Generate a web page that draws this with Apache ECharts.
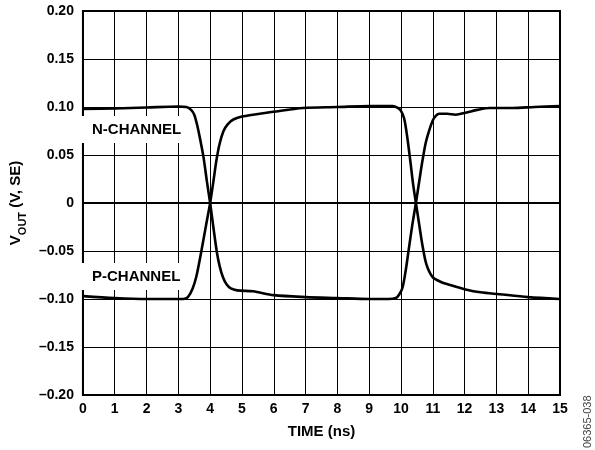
<!DOCTYPE html>
<html>
<head>
<meta charset="utf-8">
<script src="https://cdn.jsdelivr.net/npm/echarts@6/dist/echarts.min.js"></script>
<style>
html,body{margin:0;padding:0;background:#fff;}
#c{width:595px;height:450px;}
</style>
</head>
<body>
<div id="c"></div>
<script>
// Time (ns) and output voltage (V)
var nTime = [0, 1, 2, 3, 3.25, 3.4, 3.5, 3.6, 3.7, 3.79, 3.9, 4.0, 4.1, 4.21, 4.3, 4.4, 4.52, 4.65, 4.85, 5.35, 6.0, 7.0, 8.0, 9.0, 9.6, 9.84, 9.95, 10.05, 10.15, 10.25, 10.36, 10.47, 10.58, 10.68, 10.78, 10.89, 11.0, 11.1, 11.2, 11.45, 11.72, 12.03, 12.4, 12.78, 13.5, 14.2, 15];
var nVout = [0.098, 0.0985, 0.0995, 0.1005, 0.100, 0.097, 0.092, 0.080, 0.064, 0.048, 0.022, 0.0, -0.025, -0.051, -0.066, -0.077, -0.085, -0.089, -0.091, -0.092, -0.096, -0.098, -0.099, -0.100, -0.100, -0.099, -0.095, -0.088, -0.070, -0.047, -0.022, 0.0, 0.024, 0.045, 0.063, 0.076, 0.086, 0.091, 0.093, 0.093, 0.092, 0.094, 0.097, 0.099, 0.099, 0.100, 0.101];
var pTime = [0, 1, 2, 3, 3.15, 3.3, 3.45, 3.57, 3.68, 3.79, 3.9, 4.0, 4.1, 4.2, 4.3, 4.42, 4.55, 4.73, 5.0, 5.35, 5.98, 6.92, 8.0, 9.0, 9.5, 9.74, 9.9, 10.0, 10.1, 10.2, 10.3, 10.38, 10.47, 10.58, 10.68, 10.8, 10.99, 11.24, 11.6, 12.03, 12.5, 13.09, 14.0, 14.97];
var pVout = [-0.097, -0.099, -0.100, -0.100, -0.100, -0.098, -0.089, -0.076, -0.058, -0.038, -0.018, 0.0, 0.022, 0.045, 0.062, 0.075, 0.082, 0.087, 0.090, 0.092, 0.095, 0.099, 0.100, 0.101, 0.101, 0.101, 0.099, 0.096, 0.088, 0.068, 0.042, 0.020, 0.0, -0.024, -0.045, -0.064, -0.077, -0.082, -0.086, -0.090, -0.093, -0.095, -0.098, -0.100];
var xTicks = [0,1,2,3,4,5,6,7,8,9,10,11,12,13,14,15];
var seriesNames = ['N-CHANNEL', 'P-CHANNEL'];

function pairs(t, v){ return t.map(function(x,i){ return [x, v[i]]; }); }

var FONT = '"Liberation Sans", Arial, Helvetica, sans-serif';
var chart = echarts.init(document.getElementById('c'), null, {renderer:'canvas'});
chart.setOption({
  animation: false,
  backgroundColor: '#fff',
  grid: {left: 80, right: 35, top: 11, bottom: 55, show: true, borderColor: '#000', borderWidth: 2, backgroundColor: 'transparent'},
  xAxis: {
    type: 'value', min: 0, max: 15, interval: 1,
    name: 'TIME (ns)', nameLocation: 'middle', nameGap: 29,
    nameTextStyle: {fontFamily: FONT, fontWeight: 'bold', fontSize: 15, color: '#000'},
    axisLine: {show: true, lineStyle: {color: '#000', width: 2}},
    axisTick: {show: false},
    axisLabel: {fontFamily: FONT, fontWeight: 'bold', fontSize: 14, color: '#000', margin: 7,
      formatter: function(v){ return xTicks.indexOf(v) >= 0 ? String(v) : ''; }},
    splitLine: {show: true, lineStyle: {color: '#000', width: 1}}
  },
  yAxis: {
    type: 'value', min: -0.2, max: 0.2, interval: 0.05,
    name: '{v|V}{s|OUT}{v| (V, SE)}', nameLocation: 'middle', nameGap: 55, nameRotate: 90,
    nameTextStyle: {
      rich: {
        v: {fontFamily: FONT, fontWeight: 'bold', fontSize: 15, color: '#000', lineHeight: 20, verticalAlign: 'bottom'},
        s: {fontFamily: FONT, fontWeight: 'bold', fontSize: 11, color: '#000', lineHeight: 20, verticalAlign: 'bottom', padding: [0,0,-5,0]}
      }
    },
    axisLine: {show: true, lineStyle: {color: '#000', width: 2}},
    axisTick: {show: false},
    axisLabel: {fontFamily: FONT, fontWeight: 'bold', fontSize: 14, color: '#000', margin: 9,
      formatter: function(v){
        var r = Math.round(v*100)/100;
        if (Math.abs(r) < 1e-9) return '0';
        var s = Math.abs(r).toFixed(2);
        return (r < 0 ? '\u2013' : '') + s;
      }},
    splitLine: {show: true, lineStyle: {color: '#000', width: 1}}
  },
  series: [
    {name: seriesNames[0], type: 'line', data: pairs(nTime, nVout), smooth: 0.3, showSymbol: false, symbol: 'none',
     lineStyle: {color: '#000', width: 2.6}, z: 5},
    {name: seriesNames[1], type: 'line', data: pairs(pTime, pVout), smooth: 0.3, showSymbol: false, symbol: 'none',
     lineStyle: {color: '#000', width: 2.6}, z: 5}
  ],
  graphic: [
    {type: 'text', left: 81, top: 116, z: 10,
     style: {text: seriesNames[0], font: 'bold 15px ' + FONT, fill: '#000', backgroundColor: '#fff', padding: [6, 6, 6, 11]}},
    {type: 'text', left: 81, top: 263, z: 10,
     style: {text: seriesNames[1], font: 'bold 15px ' + FONT, fill: '#000', backgroundColor: '#fff', padding: [6, 8, 6, 11]}},
    {type: 'text', x: 582, y: 448, rotation: Math.PI/2, z: 10,
     style: {text: '06365-038', font: '11px ' + FONT, fill: '#444', textAlign: 'left', textVerticalAlign: 'top'}}
  ]
});
</script>
</body>
</html>
